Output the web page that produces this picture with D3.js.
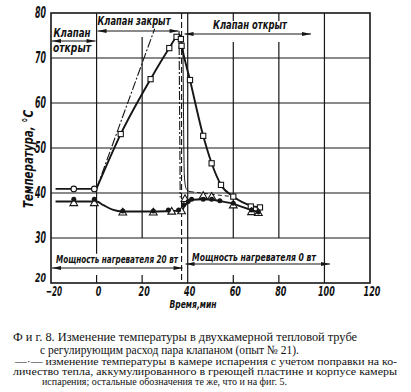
<!DOCTYPE html>
<html>
<head>
<meta charset="utf-8">
<script src="https://cdn.jsdelivr.net/npm/d3@7"></script>
<style>
  body { margin: 0; background: #fff; }
  svg { display: block; }
  .lbl { font-family: "Liberation Sans Narrow", "DejaVu Sans Condensed", "Liberation Sans", sans-serif; font-style: italic; font-weight: bold; fill: #111; }
  .cap { font-family: "Liberation Serif", "DejaVu Serif", serif; fill: #111; }
</style>
</head>
<body>
<svg id="chart"></svg>
<script>
// Size of the page
const width = 411;
const height = 392;

// Axis ticks
const xTicks = [-20, 0, 20, 40, 60, 80, 100, 120];
const yTicks = [20, 30, 40, 50, 60, 70, 80];

// Upper curve (squares): rise while valve closed, fall after it opens
const squareRise = [[0, 41], [10.6, 53.1], [23.7, 65.3], [31.9, 72.2], [35.1, 74.7], [36.6, 75.2]];
const squareFall = [[36.6, 75.2], [37.3, 73], [41, 65.1], [46.8, 52.7], [50.5, 46.6], [54.6, 41.8], [60, 39.2], [67.7, 37.2], [71.7, 36.8]];
const squarePoints = [[10.6, 53.1], [23.7, 65.3], [31.9, 72.2], [35.1, 74.7], [37, 74.2], [37.3, 72.7],
                      [41, 65.1], [46.8, 52.7], [50.5, 46.6], [54.6, 41.8], [60, 39.2], [67.7, 37], [71.7, 36.8]];

// Open circles before the valve closes
const openLine = [[-18, 40.9], [0, 40.9]];
const openPoints = [[-10, 40.9], [-1, 40.9]];

// Lower curve (filled circles / triangles)
const lowerLine = [[-18, 38.1], [0, 38.1], [3, 37.3], [7, 36.3], [11.5, 35.9], [24.9, 35.9], [33, 36], [37.3, 36.1],
                   [38.5, 37], [40.2, 38], [42, 38.5], [46.8, 38.6], [50.5, 38.5], [54.1, 38.2], [60, 37.6], [68, 36.2], [71, 35.8]];
const filledPoints = [[-10, 38.6], [-1, 38.6], [11.5, 36], [24.9, 36], [31.5, 36.2], [36, 36.2], [38.2, 37.4], [40.2, 38.1],
                      [41.7, 38.6], [46.8, 38.6], [50.5, 38.6], [54.1, 38.3], [60, 37.7], [68, 36.2], [71, 35.8]];
const trianglePoints = [[-10, 37.7], [-1, 37.7], [11.5, 35.6], [24.9, 35.6], [33, 35.8], [37.3, 35.9], [38.8, 38.6],
                        [46.8, 39.3], [50.5, 39.1], [60, 37.2], [68, 35.7], [71, 35.5]];

// Thin curves near valve opening
const thinDrop = [[37.9, 73.5], [38.2, 55], [38.5, 44], [39.3, 41], [41, 40.3]];
const thinDash = [[41, 40.3], [46, 40], [54, 39.5], [60, 39.2]];

// Corrected evaporation chamber temperature (dash-dot)
const corrRise = [[0, 41], [25.5, 76.5]];
const corrFall = [[36.2, 76], [36.7, 39]];

// Valve switches open at this time
const valveOpenTime = 37.3;

const svg = d3.select("#chart")
    .attr("width", width)
    .attr("height", height);

const x = d3.scaleLinear().domain([-20, 120]).range([51, 370]);
const y = d3.scaleLinear().domain([20, 80]).range([283, 13]);

const ink = "#161616";

// Grid lines: verticals are cut where the labels sit
const grid = svg.append("g").attr("stroke", ink).attr("stroke-width", 1.2);
yTicks.slice(1, -1).forEach(v => {
    grid.append("line").attr("x1", x(-20)).attr("x2", x(120)).attr("y1", y(v)).attr("y2", y(v));
});
const vSegments = {
    0: [[80, 26.5]],
    20: [[y.invert(37), 30]],
    40: [[80, 20]],
    60: [[y.invert(42), 30], [80, y.invert(21)]],
    80: [[y.invert(42), 30], [80, y.invert(21)]],
    100: [[80, 20]]
};
Object.keys(vSegments).forEach(k => {
    vSegments[k].forEach(s => {
        grid.append("line").attr("x1", x(+k)).attr("x2", x(+k)).attr("y1", y(s[0])).attr("y2", y(s[1]));
    });
});
// bottom ticks where gridlines are interrupted
[0, 20, 60, 80].forEach(v => {
    grid.append("line").attr("x1", x(v)).attr("x2", x(v)).attr("y1", y(20) - 8).attr("y2", y(20));
});

// Frame
svg.append("rect")
    .attr("x", x(-20)).attr("y", y(80))
    .attr("width", x(120) - x(-20)).attr("height", y(20) - y(80))
    .attr("fill", "none").attr("stroke", ink).attr("stroke-width", 1.6);

// Valve switch line
svg.append("line")
    .attr("x1", x(valveOpenTime)).attr("x2", x(valveOpenTime))
    .attr("y1", y(80)).attr("y2", y(20))
    .attr("stroke", ink).attr("stroke-width", 1.1).attr("stroke-dasharray", "6,3");

// Tick labels (narrow drafting digits)
svg.selectAll(".ylab").data(yTicks).enter().append("text")
    .attr("class", "lbl ylab")
    .attr("x", 46)
    .attr("y", d => d === 20 ? y(d) - 1 : y(d))
    .attr("dy", d => d === 20 ? 0 : "0.36em")
    .attr("text-anchor", "end")
    .attr("font-size", d => d === 20 ? 13 : 15)
    .attr("textLength", 11)
    .attr("lengthAdjust", "spacingAndGlyphs")
    .text(d => d);

svg.selectAll(".xlab").data(xTicks).enter().append("text")
    .attr("class", "lbl xlab")
    .attr("x", d => x(d) + (d === -20 ? 3 : 2))
    .attr("y", 296)
    .attr("text-anchor", "middle")
    .attr("font-size", 14)
    .attr("textLength", d => String(Math.abs(d)).length * 5.6 + (d < 0 ? 5 : 0))
    .attr("lengthAdjust", "spacingAndGlyphs")
    .text(d => d < 0 ? "\u2212" + Math.abs(d) : d);

// Axis titles
svg.append("text")
    .attr("class", "lbl")
    .attr("transform", "translate(33,159) rotate(-90)")
    .attr("text-anchor", "middle")
    .attr("font-size", 13.5)
    .attr("font-weight", "normal")
    .attr("textLength", 98)
    .attr("lengthAdjust", "spacingAndGlyphs")
    .text("Температура, °С");

svg.append("text")
    .attr("class", "lbl")
    .attr("x", 193).attr("y", 308)
    .attr("text-anchor", "middle")
    .attr("font-size", 11)
    .attr("textLength", 47)
    .attr("lengthAdjust", "spacingAndGlyphs")
    .text("Время,мин");

// Data curves
const line = d3.line().x(d => x(d[0])).y(d => y(d[1]));
const smooth = d3.line().x(d => x(d[0])).y(d => y(d[1])).curve(d3.curveMonotoneX);

function drawPath(pts, gen, w, dash) {
    svg.append("path")
        .attr("d", gen(pts))
        .attr("fill", "none")
        .attr("stroke", ink)
        .attr("stroke-width", w)
        .attr("stroke-dasharray", dash || null);
}

drawPath(corrRise, line, 1.1, "9,2,2,2");
drawPath(corrFall, line, 1.1, "9,2,2,2");
drawPath(thinDrop, smooth, 1, null);
drawPath(thinDash, smooth, 1, "4,3");
drawPath(openLine, line, 1.8);
drawPath(squareRise, smooth, 1.9);
drawPath(squareFall, smooth, 1.9);
drawPath(lowerLine, smooth, 1.9);

// Markers
svg.selectAll(".sq").data(squarePoints).enter().append("rect")
    .attr("x", d => x(d[0]) - 2.6).attr("y", d => y(d[1]) - 2.6)
    .attr("width", 5.2).attr("height", 5.2)
    .attr("fill", "#fff").attr("stroke", ink).attr("stroke-width", 1.1);

svg.selectAll(".oc").data(openPoints).enter().append("circle")
    .attr("cx", d => x(d[0])).attr("cy", d => y(d[1])).attr("r", 2.8)
    .attr("fill", "#fff").attr("stroke", ink).attr("stroke-width", 1.1);

const tri = d3.symbol().type(d3.symbolTriangle).size(26);
svg.selectAll(".tr").data(trianglePoints).enter().append("path")
    .attr("d", tri)
    .attr("transform", d => `translate(${x(d[0])},${y(d[1])})`)
    .attr("fill", "#fff").attr("stroke", ink).attr("stroke-width", 1.1);

svg.selectAll(".fc").data(filledPoints).enter().append("circle")
    .attr("cx", d => x(d[0])).attr("cy", d => y(d[1])).attr("r", 2.5)
    .attr("fill", ink);

// Double-headed arrows with labels
function arrow(x1, x2, yy) {
    svg.append("line").attr("x1", x1).attr("x2", x2).attr("y1", yy).attr("y2", yy)
        .attr("stroke", ink).attr("stroke-width", 1.1);
    [[x1, 1], [x2, -1]].forEach(([px, dir]) => {
        svg.append("path")
            .attr("d", `M${px},${yy} L${px + dir * 9},${yy - 2} L${px + dir * 9},${yy + 2} Z`)
            .attr("fill", ink);
    });
}
// label squeezed horizontally to the width it has in the picture
function label(txt, cx, by, len, size) {
    const t = svg.append("text").attr("class", "lbl")
        .attr("text-anchor", "middle")
        .attr("font-size", size || 12)
        .attr("font-weight", "normal")
        .text(txt);
    const natural = t.node().getComputedTextLength();
    t.attr("transform", `translate(${cx},${by}) scale(${len / natural},1)`);
}

label("Клапан", 72, 37, 37);
arrow(x(-20) + 1, x(0) - 1, 41);
label("открыт", 72, 52, 38);

label("Клапан закрыт", 134, 25, 73);
arrow(x(0) + 1, x(valveOpenTime) - 3, 31);

label("Клапан открыт", 250, 29, 74);
arrow(x(valveOpenTime) + 3, 311, 34);

label("Мощность нагревателя 20 вт", 117, 263, 122, 11);
arrow(x(-20) + 1, x(valveOpenTime) + 1, 268);

label("Мощность нагревателя 0 вт", 254, 261, 124, 11);
arrow(x(valveOpenTime) + 4, 330, 264);

// Caption
function caption(txt, x1, x2, by, size) {
    svg.append("text").attr("class", "cap")
        .attr("x", x1).attr("y", by)
        .attr("font-size", size)
        .attr("textLength", x2 - x1)
        .attr("lengthAdjust", "spacingAndGlyphs")
        .text(txt);
}
caption("Ф и г.  8. Изменение температуры в двухкамерной тепловой трубе", 13, 357, 340.5, 13);
caption("с  регулирующим  расход  пара  клапаном  (опыт  № 21).", 40, 299, 354, 12.5);
caption("—·— изменение температуры в камере испарения с учетом поправки на ко-", 15, 397, 364.5, 10);
caption("личество тепла, аккумулированного в греющей пластине и корпусе камеры", 13, 397, 374.5, 10);
caption("испарения; остальные обозначения те же, что и на фиг. 5.", 42, 287, 384.5, 10);
</script>
</body>
</html>
